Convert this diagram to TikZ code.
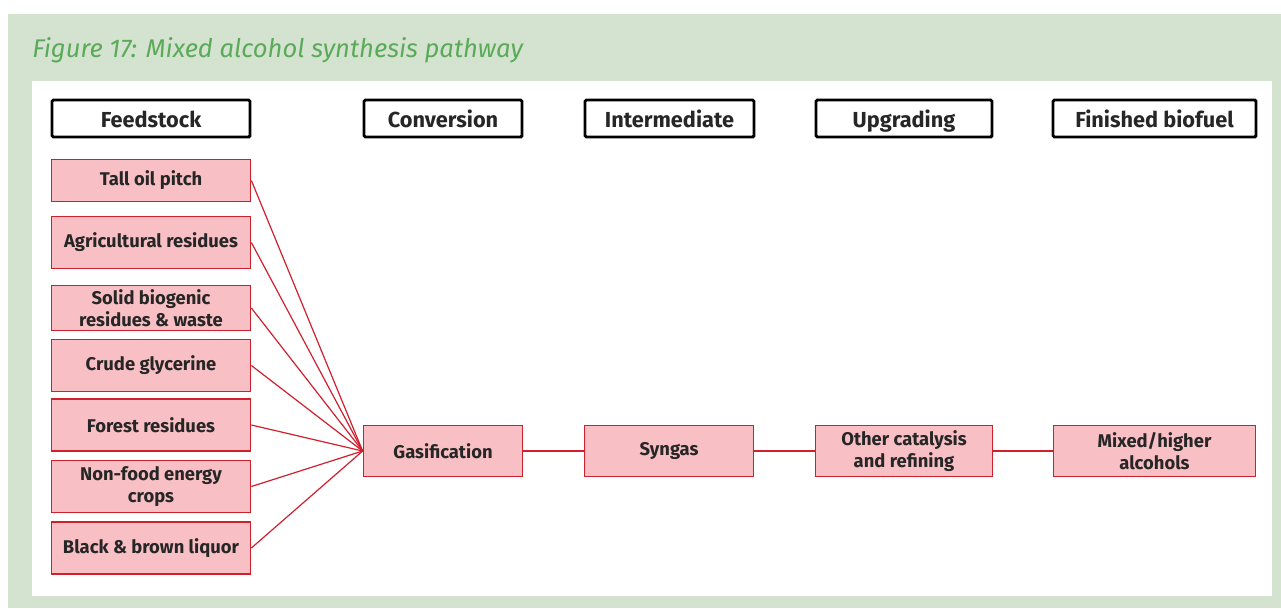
\documentclass[tikz,border=0pt]{standalone}
\usepackage{fontspec}
\setmainfont{Fira Sans}
\begin{document}
\begin{tikzpicture}[x=0.75pt,y=-0.75pt,
  hdr/.style={draw=black, line width=2.2pt, rounded corners=1pt, fill=white, inner sep=0pt, text height=14.5pt, text depth=1.7pt, font=\fontsize{16.3}{18}\selectfont\bfseries, text=black!85},
  pbox/.style={draw=ired, line width=1.3pt, fill=ipink, inner sep=0pt, align=center, font=\fontsize{13.8}{16.5}\selectfont\bfseries, text=black!85},
  link/.style={draw=ired, line width=0.9pt}
]
\definecolor{bgreen}{HTML}{D4E3CF}
\definecolor{tgreen}{HTML}{5AAA5A}
\definecolor{ipink}{HTML}{F8BFC4}
\definecolor{ired}{HTML}{D0202E}
\useasboundingbox (0,0) rectangle (1281,608);
\fill[white] (0,0) rectangle (1281,608);
\fill[bgreen] (8,14) rectangle (1281,608);
\fill[white] (32,81) rectangle (1272,596);
\node[anchor=base west, text=tgreen, font=\fontsize{19.2}{22}\selectfont\itshape, inner sep=0pt] (title) at (32,57) {Figure 17: Mixed alcohol synthesis pathway};
% headers
\node[hdr, minimum width=198*0.75pt, minimum height=37*0.75pt] (hfeed) at (151,118.5) {Feedstock};
\node[hdr, minimum width=158*0.75pt, minimum height=37*0.75pt] (hconv) at (443,118.5) {Conversion};
\node[hdr, minimum width=169*0.75pt, minimum height=37*0.75pt] (hint) at (669.5,118.5) {Intermediate};
\node[hdr, minimum width=176*0.75pt, minimum height=37*0.75pt] (hupg) at (904,118.5) {Upgrading};
\node[hdr, minimum width=203*0.75pt, minimum height=37*0.75pt] (hfin) at (1154.5,118.5) {Finished biofuel};
% feedstock boxes
\node[pbox, minimum width=199*0.75pt, minimum height=42*0.75pt] (f1) at (151,180.5) {Tall oil pitch};
\node[pbox, minimum width=199*0.75pt, minimum height=52*0.75pt] (f2) at (151,242.5) {Agricultural residues};
\node[pbox, minimum width=199*0.75pt, minimum height=45*0.75pt] (f3) at (151,308) {Solid biogenic\\residues \& waste};
\node[pbox, minimum width=199*0.75pt, minimum height=52*0.75pt] (f4) at (151,365.5) {Crude glycerine};
\node[pbox, minimum width=199*0.75pt, minimum height=52*0.75pt] (f5) at (151,425) {Forest residues};
\node[pbox, minimum width=199*0.75pt, minimum height=52*0.75pt] (f6) at (151,486.5) {Non-food energy\\crops};
\node[pbox, minimum width=199*0.75pt, minimum height=52*0.75pt] (f7) at (151,548) {Black \& brown liquor};
% pathway
\node[pbox, minimum width=159*0.75pt, minimum height=51*0.75pt] (gas) at (443,451) {Gasification};
\node[pbox, minimum width=169*0.75pt, minimum height=51*0.75pt] (syn) at (669,451) {Syngas};
\node[pbox, minimum width=177*0.75pt, minimum height=51*0.75pt] (oth) at (904,451) {Other catalysis\\and refining};
\node[pbox, minimum width=202*0.75pt, minimum height=51*0.75pt] (mix) at (1154.5,451) {Mixed/higher\\alcohols};
% connectors
\foreach \f in {f1,f2,f3,f4,f5,f6,f7} \draw[link] (\f.east) -- (gas.west);
\draw[link] (gas.east) -- (syn.west);
\draw[link] (syn.east) -- (oth.west);
\draw[link] (oth.east) -- (mix.west);
\end{tikzpicture}
\end{document}
